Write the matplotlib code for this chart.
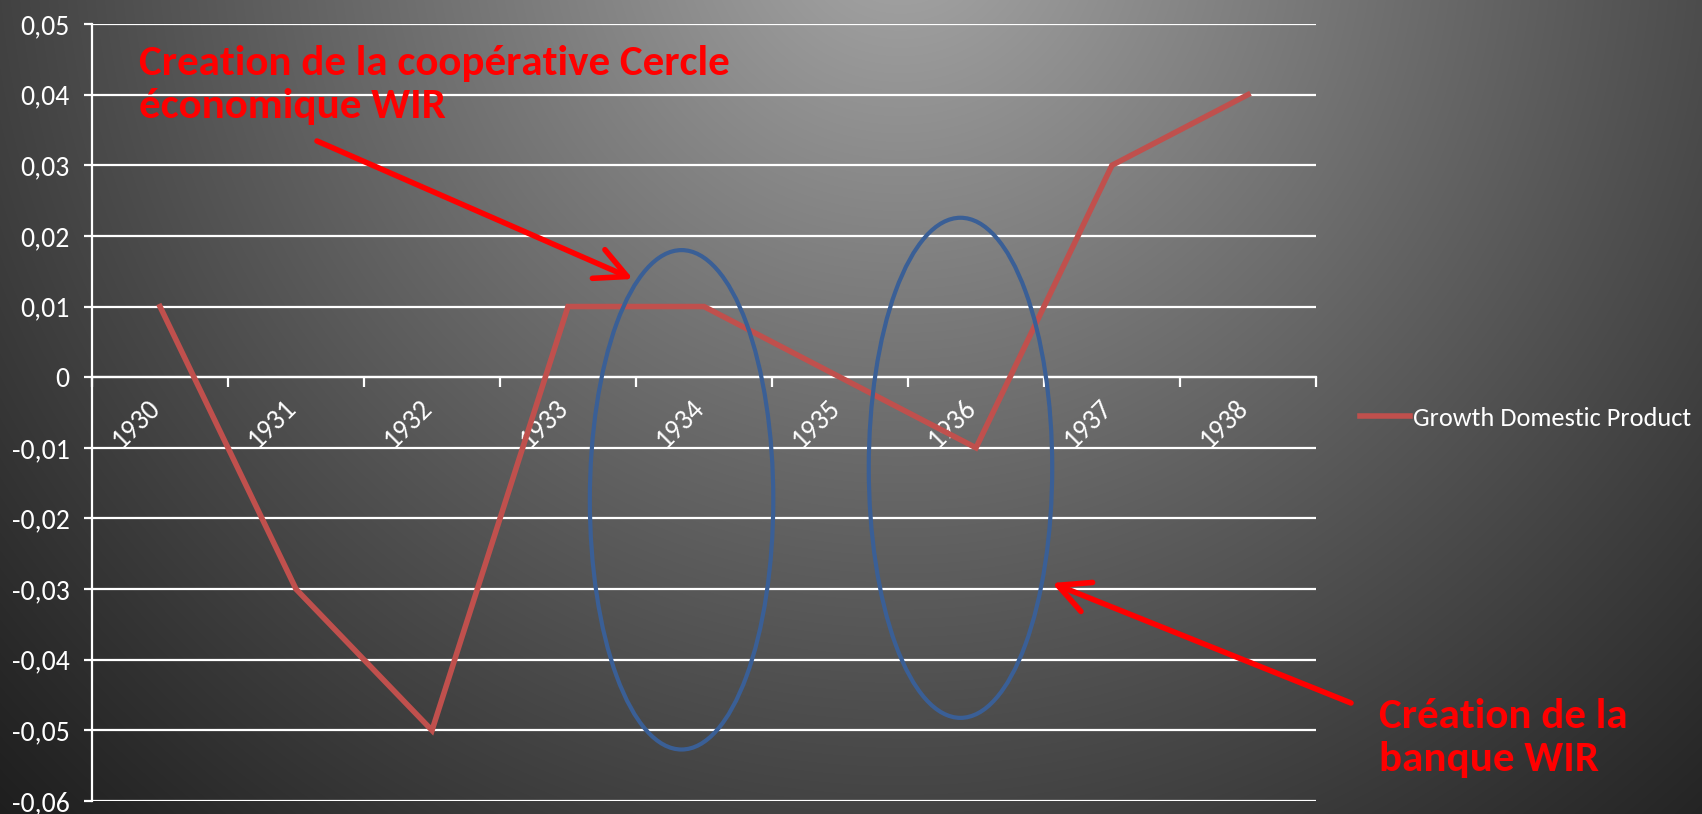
import numpy as np
import matplotlib
matplotlib.use("Agg")
import matplotlib.pyplot as plt
import matplotlib.transforms as mtransforms
from matplotlib.patches import Ellipse
from matplotlib import font_manager

years = ['1930', '1931', '1932', '1933', '1934', '1935', '1936', '1937', '1938']
gdp = [0.01, -0.03, -0.05, 0.01, 0.01, 0.0, -0.01, 0.03, 0.04]
yticks = [-0.06, -0.05, -0.04, -0.03, -0.02, -0.01, 0.0, 0.01, 0.02, 0.03, 0.04, 0.05]
series_name = 'Growth Domestic Product'
note_top = "Creation de la coopérative Cercle\néconomique WIR"
note_bottom = "Création de la\nbanque WIR"

avail = {f.name for f in font_manager.fontManager.ttflist}
FONT = 'DejaVu Sans'
for cand in ['Carlito', 'Fira Sans Condensed', 'Barlow Semi Condensed', 'Liberation Sans']:
    if cand in avail:
        FONT = cand
        break
plt.rcParams['font.family'] = [FONT, 'DejaVu Sans']

W, H = 1702, 814
fig = plt.figure(figsize=(W / 100, H / 100), dpi=100)

# radial gradient background
yy, xx = np.mgrid[0:H, 0:W]
d = np.sqrt((xx - 900.0) ** 2 + (yy + 80.0) ** 2)
v = 28 + 140 * np.clip(1 - d / 1300.0, 0, 1) ** 1.1
img = np.dstack([v, v, v]) / 255.0
bg = fig.add_axes([0, 0, 1, 1], zorder=-10)
bg.imshow(img, aspect='auto', extent=[0, 1, 0, 1], origin='upper')
bg.set_axis_off()

L, R, T, B = 92 / W, 1316 / W, 1 - 24 / H, 1 - 801 / H
ax = fig.add_axes([L, B, R - L, T - B])
ax.set_facecolor('none')

x = np.arange(len(years))
ax.plot(x, gdp, color='#c0504d', lw=4, solid_joinstyle='miter', zorder=3, label=series_name)

ax.set_xlim(-0.5, len(years) - 0.5)
ax.set_ylim(-0.06, 0.05)
ax.set_yticks(yticks)
ax.set_yticklabels([('0' if abs(t) < 1e-12 else ('%.2f' % t).replace('.', ',')) for t in yticks])
ax.grid(axis='y', color='white', lw=1.6, zorder=1)
ax.set_axisbelow(True)

for s in ['top', 'right']:
    ax.spines[s].set_visible(False)
ax.spines['left'].set_color('white')
ax.spines['left'].set_linewidth(1.6)
ax.spines['bottom'].set_position(('data', 0))
ax.spines['bottom'].set_color('white')
ax.spines['bottom'].set_linewidth(1.6)

ax.tick_params(axis='y', colors='white', labelsize=20, length=6, width=1.6, pad=10)
ax.set_xticks(x)
ax.set_xticklabels(years, rotation=45, ha='right', va='top', rotation_mode='default')
ax.set_xticks(np.arange(len(years) + 1) - 0.5, minor=True)
ax.tick_params(axis='x', which='major', length=0, colors='white', labelsize=20, pad=13)
ax.tick_params(axis='x', which='minor', length=7, width=1.6, color='white')
shift = mtransforms.ScaledTranslation(0.05, 0, fig.dpi_scale_trans)
for lab in ax.get_xticklabels():
    lab.set_transform(lab.get_transform() + shift)

# ellipses
for cx, cy, w, h in [(3.835, -0.01736, 1.349, 0.0707), (5.886, -0.01283, 1.349, 0.0708)]:
    ax.add_patch(Ellipse((cx, cy), w, h, fill=False, edgecolor='#3a5f96', lw=3, zorder=4))

leg = fig.legend(loc='center left', bbox_to_anchor=(1360 / W, 1 - 418 / H), frameon=False,
                 fontsize=19, handlelength=1.9, handletextpad=0.1, borderaxespad=0, borderpad=0)
for t in leg.get_texts():
    t.set_color('white')

fig.text(139 / W, 1 - 45 / H, note_top, color='#ff0000', fontsize=31, fontweight='bold',
         va='top', ha='left', linespacing=1.2)
fig.text(1379 / W, 1 - 698 / H, note_bottom, color='#ff0000', fontsize=31, fontweight='bold',
         va='top', ha='left', linespacing=1.2)

arrow = dict(arrowstyle='->,head_length=0.9,head_width=0.45', color='#ff0000', lw=4, mutation_scale=25,
             shrinkA=0, shrinkB=0)
ax.annotate('', xy=(633 / W, 1 - 279 / H), xytext=(317 / W, 1 - 141 / H),
            xycoords='figure fraction', textcoords='figure fraction', arrowprops=arrow)
ax.annotate('', xy=(1052 / W, 1 - 583 / H), xytext=(1351 / W, 1 - 703 / H),
            xycoords='figure fraction', textcoords='figure fraction', arrowprops=arrow)

fig.savefig('out.png', dpi=100)
